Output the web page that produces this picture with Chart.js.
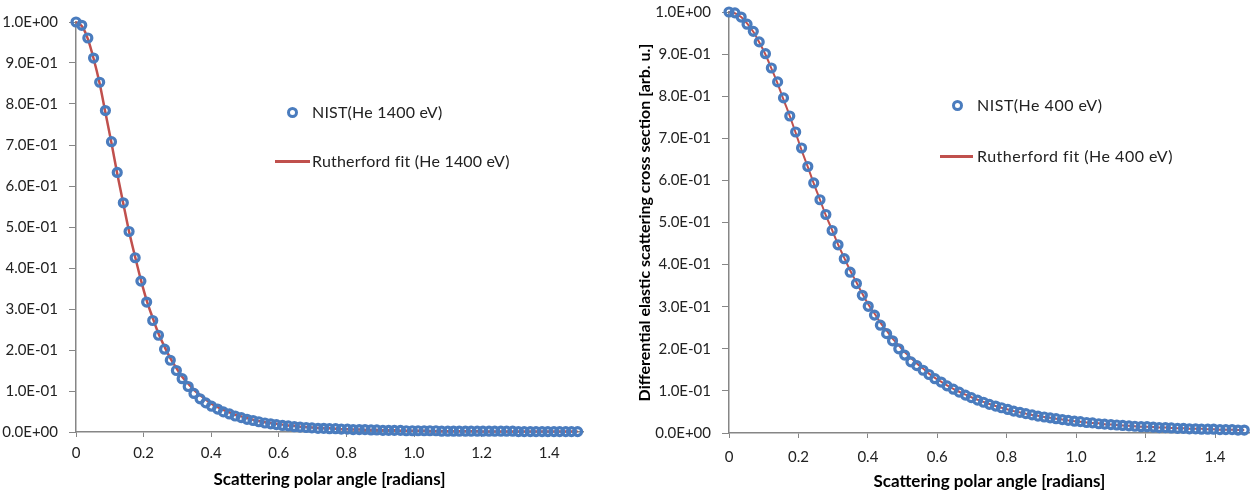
<!DOCTYPE html>
<html>
<head>
<meta charset="utf-8">
<script src="https://cdn.jsdelivr.net/npm/chart.js@4"></script>
<style>
  body { margin: 0; background: #fff; }
  .panel { position: absolute; top: 0; height: 495px; }
  .legend-item { position: absolute; font: 16px Lato, sans-serif; color: #222; white-space: nowrap; line-height: 18px; }
  .mark-circle { position: absolute; width: 11px; height: 11px; box-sizing: border-box; border: 3px solid #4A7CBE; border-radius: 50%; }
  .mark-line { position: absolute; height: 3px; background: #C0504D; }
</style>
</head>
<body>
<div class="panel" style="left:0;width:600px;"><canvas id="leftChart"></canvas></div>
<div class="panel" style="left:620px;width:637px;"><canvas id="rightChart"></canvas></div>
<div id="legends"></div>
<script>
// scattering angle, 1 degree steps, in radians
const angles = [0.000, 0.017, 0.035, 0.052, 0.070, 0.087, 0.105, 0.122, 0.140, 0.157,
  0.175, 0.192, 0.209, 0.227, 0.244, 0.262, 0.279, 0.297, 0.314, 0.332,
  0.349, 0.367, 0.384, 0.401, 0.419, 0.436, 0.454, 0.471, 0.489, 0.506,
  0.524, 0.541, 0.559, 0.576, 0.593, 0.611, 0.628, 0.646, 0.663, 0.681,
  0.698, 0.716, 0.733, 0.750, 0.768, 0.785, 0.803, 0.820, 0.838, 0.855,
  0.873, 0.890, 0.908, 0.925, 0.942, 0.960, 0.977, 0.995, 1.012, 1.030,
  1.047, 1.065, 1.082, 1.100, 1.117, 1.134, 1.152, 1.169, 1.187, 1.204,
  1.222, 1.239, 1.257, 1.274, 1.292, 1.309, 1.326, 1.344, 1.361, 1.379,
  1.396, 1.414, 1.431, 1.449, 1.466, 1.484];

// He 1400 eV
const nist1400 = [1.000, 0.992, 0.961, 0.912, 0.853, 0.784, 0.708, 0.633, 0.559, 0.489,
  0.425, 0.368, 0.317, 0.272, 0.236, 0.202, 0.175, 0.150, 0.130, 0.111,
  0.094, 0.081, 0.071, 0.063, 0.056, 0.049, 0.044, 0.039, 0.035, 0.031,
  0.028, 0.025, 0.022, 0.020, 0.018, 0.016, 0.015, 0.013, 0.012, 0.011,
  0.010, 0.009, 0.009, 0.008, 0.008, 0.007, 0.007, 0.006, 0.006, 0.006,
  0.005, 0.005, 0.004, 0.004, 0.004, 0.004, 0.003, 0.003, 0.003, 0.003,
  0.003, 0.003, 0.002, 0.002, 0.002, 0.002, 0.002, 0.002, 0.002, 0.002,
  0.002, 0.002, 0.002, 0.002, 0.002, 0.001, 0.001, 0.001, 0.001, 0.001,
  0.001, 0.001, 0.001, 0.001, 0.001, 0.001];
const fit1400 = [1.000, 0.990, 0.959, 0.911, 0.850, 0.779, 0.705, 0.630, 0.557, 0.489,
  0.427, 0.371, 0.321, 0.278, 0.240, 0.208, 0.180, 0.156, 0.135, 0.118,
  0.103, 0.090, 0.079, 0.069, 0.061, 0.054, 0.048, 0.042, 0.038, 0.034,
  0.030, 0.027, 0.024, 0.022, 0.020, 0.018, 0.016, 0.015, 0.013, 0.012,
  0.011, 0.010, 0.009, 0.009, 0.008, 0.007, 0.007, 0.006, 0.006, 0.005,
  0.005, 0.005, 0.004, 0.004, 0.004, 0.003, 0.003, 0.003, 0.003, 0.003,
  0.002, 0.002, 0.002, 0.002, 0.002, 0.002, 0.002, 0.002, 0.002, 0.001,
  0.001, 0.001, 0.001, 0.001, 0.001, 0.001, 0.001, 0.001, 0.001, 0.001,
  0.001, 0.001, 0.001, 0.001, 0.001, 0.001];

// He 400 eV
const nist400 = [1.000, 0.998, 0.988, 0.971, 0.954, 0.929, 0.901, 0.867, 0.834, 0.796,
  0.753, 0.715, 0.677, 0.633, 0.594, 0.554, 0.519, 0.481, 0.447, 0.414,
  0.382, 0.355, 0.327, 0.301, 0.280, 0.256, 0.236, 0.219, 0.200, 0.185,
  0.169, 0.160, 0.149, 0.139, 0.129, 0.121, 0.112, 0.104, 0.097, 0.090,
  0.084, 0.078, 0.073, 0.068, 0.064, 0.060, 0.056, 0.052, 0.049, 0.046,
  0.043, 0.040, 0.038, 0.036, 0.034, 0.032, 0.030, 0.028, 0.027, 0.025,
  0.024, 0.022, 0.021, 0.020, 0.019, 0.018, 0.017, 0.016, 0.015, 0.015,
  0.014, 0.013, 0.013, 0.012, 0.011, 0.011, 0.010, 0.010, 0.009, 0.009,
  0.009, 0.008, 0.008, 0.008, 0.007, 0.007];
const fit400 = [1.000, 0.997, 0.988, 0.973, 0.953, 0.928, 0.899, 0.866, 0.830, 0.792,
  0.753, 0.713, 0.672, 0.632, 0.593, 0.554, 0.517, 0.482, 0.448, 0.416,
  0.386, 0.358, 0.331, 0.306, 0.284, 0.262, 0.243, 0.224, 0.208, 0.192,
  0.178, 0.165, 0.153, 0.141, 0.131, 0.122, 0.113, 0.105, 0.098, 0.091,
  0.085, 0.079, 0.074, 0.069, 0.064, 0.060, 0.056, 0.052, 0.049, 0.046,
  0.043, 0.041, 0.038, 0.036, 0.034, 0.032, 0.030, 0.028, 0.027, 0.025,
  0.024, 0.023, 0.021, 0.020, 0.019, 0.018, 0.017, 0.016, 0.015, 0.015,
  0.014, 0.013, 0.013, 0.012, 0.011, 0.011, 0.010, 0.010, 0.010, 0.009,
  0.009, 0.008, 0.008, 0.008, 0.007, 0.007];

const xTitle = 'Scattering polar angle [radians]';
const yTitleRight = 'Differential elastic scattering cross section [arb. u.]';
const labelsLeft = ['NIST(He 1400 eV)', 'Rutherford fit (He 1400 eV)'];
const labelsRight = ['NIST(He 400 eV)', 'Rutherford fit (He 400 eV)'];

const AXIS_GRAY = '#868686';
const TEXT = '#222';
const BLUE = '#4A7CBE';
const RED = '#C0504D';

function sciLabel(v) {
    const [m, e] = Number(v).toExponential(1).split('e');
    const n = parseInt(e, 10);
    return m + 'E' + (n < 0 ? '-' : '+') + String(Math.abs(n)).padStart(2, '0');
}

function toPoints(ys) {
    return angles.map((x, i) => ({ x, y: ys[i] }));
}

function createChart(id, cfg) {
    const ctx = document.getElementById(id).getContext('2d');
    return new Chart(ctx, {
        type: 'scatter',
        data: {
            datasets: [{
                label: cfg.labels[0],
                data: toPoints(cfg.nist),
                pointStyle: 'circle',
                pointRadius: 4,
                pointBorderWidth: 3.2,
                borderColor: BLUE,
                backgroundColor: 'rgba(0,0,0,0)',
                clip: false,
                order: 0
            }, {
                label: cfg.labels[1],
                data: toPoints(cfg.fit),
                showLine: true,
                pointRadius: 0,
                borderColor: RED,
                borderWidth: cfg.lineWidth,
                cubicInterpolationMode: 'monotone',
                clip: false,
                order: 1
            }]
        },
        options: {
            responsive: false,
            animation: false,
            layout: { padding: { top: cfg.padTop, right: cfg.padRight, left: 0, bottom: 0 } },
            plugins: { legend: { display: false }, tooltip: { enabled: false } },
            scales: {
                x: {
                    type: 'linear',
                    min: 0,
                    max: 1.5,
                    ticks: { stepSize: 0.2, includeBounds: false, color: TEXT, font: { family: 'Lato', size: 15 }, padding: cfg.xTickPad },
                    afterFit: s => { s.height = cfg.xHeight; s.paddingLeft = 0; s.paddingRight = 0; },
                    grid: { drawOnChartArea: false, drawTicks: true, tickLength: 5, color: AXIS_GRAY },
                    border: { color: AXIS_GRAY, width: 1.5 },
                    title: { display: true, text: xTitle, color: '#000', font: { family: 'Lato', size: 17, weight: 'bold' }, padding: { top: 0, bottom: cfg.xTitlePad } }
                },
                y: {
                    min: 0,
                    max: 1,
                    ticks: { stepSize: 0.1, color: TEXT, font: { family: 'Lato', size: 15 }, padding: 11, callback: sciLabel },
                    afterFit: s => { s.width = cfg.yWidth; s.paddingTop = 0; s.paddingBottom = 0; },
                    grid: { drawOnChartArea: false, drawTicks: true, tickLength: 7, color: AXIS_GRAY },
                    border: { color: AXIS_GRAY, width: 1.5 },
                    title: cfg.yTitle
                        ? { display: true, text: cfg.yTitle, color: '#000', font: { family: 'Lato', size: 16, weight: 'bold' }, padding: { top: 15, bottom: 0 } }
                        : { display: false }
                }
            }
        }
    });
}

function addLegend(labels, circle, line, spacing) {
    const box = document.getElementById('legends');
    const c = document.createElement('div');
    c.className = 'mark-circle';
    c.style.left = (circle.x - 5.5) + 'px';
    c.style.top = (circle.y - 5.5) + 'px';
    box.appendChild(c);
    const t1 = document.createElement('div');
    t1.className = 'legend-item';
    t1.textContent = labels[0];
    t1.style.left = circle.tx + 'px';
    t1.style.top = (circle.y - 9) + 'px';
    t1.style.letterSpacing = spacing + 'px';
    box.appendChild(t1);
    const l = document.createElement('div');
    l.className = 'mark-line';
    l.style.left = line.x1 + 'px';
    l.style.width = (line.x2 - line.x1) + 'px';
    l.style.top = (line.y - 1.5) + 'px';
    box.appendChild(l);
    const t2 = document.createElement('div');
    t2.className = 'legend-item';
    t2.textContent = labels[1];
    t2.style.left = line.tx + 'px';
    t2.style.top = (line.y - 9) + 'px';
    t2.style.letterSpacing = spacing + 'px';
    box.appendChild(t2);
}

function setup(id, w) {
    const cv = document.getElementById(id);
    cv.width = w;
    cv.height = 495;
}

setup('leftChart', 600);
setup('rightChart', 637);

createChart('leftChart', {
    nist: nist1400, fit: fit1400, labels: labelsLeft, lineWidth: 2.5,
    padTop: 22, padRight: 17, yWidth: 76, xHeight: 63, xTickPad: 7, xTitlePad: 5
});
createChart('rightChart', {
    nist: nist400, fit: fit400, labels: labelsRight, lineWidth: 2,
    padTop: 12, padRight: 6, yWidth: 109, xHeight: 62, xTickPad: 10, xTitlePad: 3,
    yTitle: yTitleRight
});

addLegend(labelsLeft, { x: 292, y: 112, tx: 312 }, { x1: 275, x2: 310, y: 161, tx: 312 }, 0.2);
addLegend(labelsRight, { x: 957, y: 105, tx: 977 }, { x1: 940, x2: 973, y: 156, tx: 977 }, 0.5);
</script>
</body>
</html>
